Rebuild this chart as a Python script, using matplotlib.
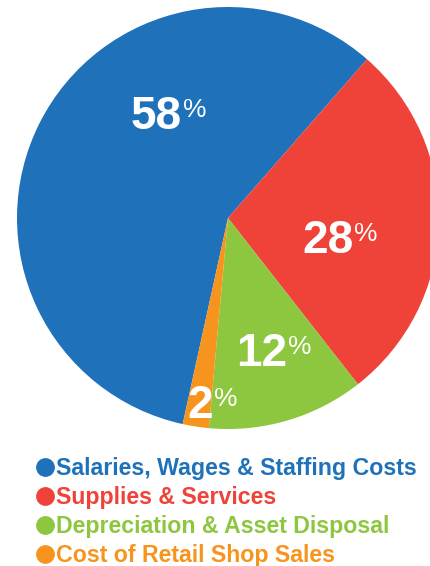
import matplotlib.pyplot as plt
import numpy as np

plt.rcParams['font.family'] = ['Liberation Sans', 'DejaVu Sans']

# data
categories = ['Salaries, Wages & Staffing Costs', 'Supplies & Services',
              'Depreciation & Asset Disposal', 'Cost of Retail Shop Sales']
shares = [58, 28, 12, 2]
colors = ['#1F72BA', '#EF4239', '#8DC63F', '#F7941D']

W, H = 430, 566
fig = plt.figure(figsize=(W / 100, H / 100), dpi=100)
ax = fig.add_axes([0, 0, 1, 1])

# pie geometry in pixel units (y up)
cx, cy, r = 228, H - 218, 211
start = 48.8 + 360 * shares[0] / 100
ax.pie(shares, colors=colors, startangle=start, counterclock=False,
       center=(cx, cy), radius=r, wedgeprops=dict(linewidth=0))
ax.set_xlim(0, W)
ax.set_ylim(0, H)
ax.set_aspect('equal')
ax.axis('off')

# percentage labels: (left x, baseline y) in pixels from top
label_pos = [(131, 129), (302, 253), (236, 366), (187, 418)]
for val, (px, py) in zip(shares, label_pos):
    t = ax.text(px, H - py, str(val), color='white', fontsize=33,
                fontweight='bold', ha='left', va='baseline')
    fig.canvas.draw()
    bb = t.get_window_extent()
    ax.text(bb.x1 + 1, H - py + 12, '%', color='white', fontsize=19,
            ha='left', va='baseline')

# legend rows
for i, (cat, col) in enumerate(zip(categories, colors)):
    y = H - (467 + i * 29)
    ax.plot(45, y, 'o', color=col, markersize=12.5, clip_on=False)
    ax.text(56, y - 8, cat, color=col, fontsize=16.7, fontweight='bold',
            ha='left', va='baseline')

fig.savefig('out.png', dpi=100)
